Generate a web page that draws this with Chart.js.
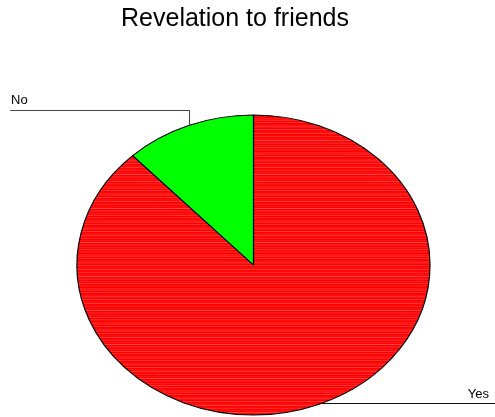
<!DOCTYPE html>
<html>
<head>
<meta charset="utf-8">
<script src="https://cdn.jsdelivr.net/npm/chart.js@4/dist/chart.umd.min.js"></script>
<style>
  html, body { margin:0; padding:0; background:#fff; overflow:hidden; }
  #wrap { position:relative; width:495px; height:417px; }
</style>
</head>
<body>
<div id="wrap"><canvas id="pie" width="495" height="417"></canvas></div>
<script>
const titleText = 'Revelation to friends';
const labels = ['Yes', 'No'];
const values = [88, 12];
const colors = ['#ff0000', '#00ff00'];

// pie is drawn as a circle, then squashed vertically into an ellipse
const RX = 176.5, RY = 150;
const SY = RY / RX;

// faint horizontal banding like the red fill in the original
function stripes(base) {
  const c = document.createElement('canvas');
  const rows = [base, '#ff3a3a', base, base, '#ff2020', base, '#ff4545', base];
  c.width = 4; c.height = rows.length;
  const g = c.getContext('2d');
  rows.forEach((col, i) => { g.fillStyle = col; g.fillRect(0, i, 4, 1); });
  return g.createPattern(c, 'repeat');
}

const squash = {
  id: 'squash',
  beforeDatasetsDraw(chart) {
    const arc = chart.getDatasetMeta(0).data[0];
    const ctx = chart.ctx;
    ctx.save();
    ctx.translate(arc.x, arc.y);
    ctx.scale(1, SY);
    ctx.translate(-arc.x, -arc.y);
  },
  afterDatasetsDraw(chart) { chart.ctx.restore(); }
};

const callouts = {
  id: 'callouts',
  afterDraw(chart) {
    const ctx = chart.ctx;
    const arcs = chart.getDatasetMeta(0).data;
    ctx.save();
    // title
    ctx.fillStyle = '#000';
    ctx.font = '25px "Liberation Sans", Arial, sans-serif';
    ctx.textAlign = 'center';
    ctx.textBaseline = 'alphabetic';
    ctx.fillText(titleText, 235, 26);

    ctx.font = '13px "Liberation Sans", Arial, sans-serif';
    ctx.lineWidth = 1;
    arcs.forEach((a, i) => {
      const mid = (a.startAngle + a.endAngle) / 2;
      const px = a.x + a.outerRadius * Math.cos(mid);
      const py = a.y + a.outerRadius * SY * Math.sin(mid);
      ctx.beginPath();
      if (px < a.x) {
        const ly = 110.5;
        ctx.strokeStyle = '#444';
        ctx.moveTo(Math.round(px) + 0.5, py);
        ctx.lineTo(Math.round(px) + 0.5, ly);
        ctx.lineTo(10, ly);
        ctx.stroke();
        ctx.textAlign = 'left';
        ctx.fillText(labels[i], 11, ly - 6.5);
      } else {
        const ly = Math.round(py) - 0.5;
        ctx.strokeStyle = '#111';
        ctx.moveTo(px, ly);
        ctx.lineTo(495, ly);
        ctx.stroke();
        ctx.textAlign = 'right';
        ctx.fillText(labels[i], 489, ly - 6);
      }
    });
    ctx.restore();
  }
};

new Chart(document.getElementById('pie'), {
  type: 'pie',
  data: {
    labels,
    datasets: [{
      data: values,
      backgroundColor: [stripes(colors[0]), colors[1]],
      borderColor: '#000',
      borderWidth: 1.2,
      radius: RX,
      hoverOffset: 0,
      clip: false
    }]
  },
  options: {
    responsive: false,
    animation: false,
    events: [],
    layout: { padding: { left: 77, right: 65, top: 113, bottom: 0 } },
    plugins: { legend: { display: false }, title: { display: false }, tooltip: { enabled: false } }
  },
  plugins: [squash, callouts]
});
</script>
</body>
</html>
